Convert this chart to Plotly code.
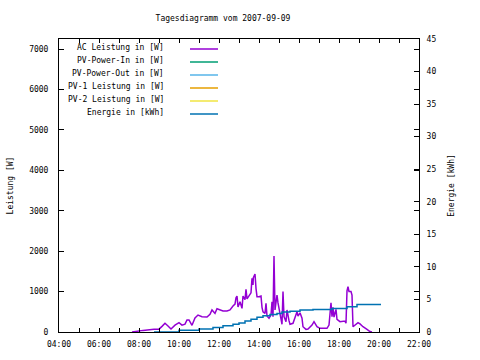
import plotly.graph_objects as go

DAY = "2007-09-09 "

ac_time = ["07:39","07:45","07:57","08:12","08:45","09:00","09:09","09:18","09:27","09:36",
           "09:48","10:00","10:09","10:18","10:24","10:30","10:39","10:48","10:57","11:09",
           "11:24","11:33","11:39","11:48","11:54","12:03","12:12","12:24","12:33","12:42",
           "12:48","12:51","12:54","12:57","13:03","13:09","13:12","13:18","13:21","13:24",
           "13:30","13:36","13:39","13:42","13:43","13:48","13:51","13:54","14:00","14:06",
           "14:09","14:12","14:18","14:21","14:24","14:30","14:36","14:39","14:42","14:45",
           "14:48","14:54","14:57","15:03","15:09","15:12","15:15","15:21","15:24","15:30",
           "15:33","15:42","15:48","15:54","15:57","16:03","16:09","16:12","16:21","16:27",
           "16:39","16:45","16:54","17:03","17:24","17:30","17:36","17:39","17:42","17:45",
           "17:51","17:54","18:03","18:18","18:21","18:24","18:27","18:30","18:36","18:39",
           "18:42","18:48","18:54","18:57","19:03","19:12","19:24","19:33","19:39"]
ac_watt = [0,10,20,40,65,70,140,215,150,75,
           170,230,170,195,300,300,165,350,420,380,
           370,440,545,460,575,545,520,520,545,645,
           690,850,890,620,750,585,890,800,1055,820,
           915,970,1330,1165,1345,1435,1080,875,875,890,
           610,500,460,710,395,340,420,750,380,1880,
           545,915,720,460,190,1000,380,255,545,280,
           190,215,340,500,395,475,340,130,65,75,
           170,255,130,90,90,170,725,380,610,370,
           560,310,255,270,215,1020,1120,1000,1000,915,
           130,170,230,230,200,130,65,10,0]

en_time = ["08:45","10:00","11:00","11:42","12:12","12:42","13:00","13:18","13:36","13:54",
           "14:12","14:33","14:54","15:09","15:33","16:03","16:42","17:39","18:24","18:54","20:06"]
en_kwh = [0.0,0.25,0.45,0.7,0.95,1.2,1.4,1.7,1.95,2.25,
          2.5,2.7,2.85,3.06,3.2,3.37,3.47,3.6,3.87,4.24,4.24]

legend_names = ["AC Leistung in [W]", "PV-Power-In in [W]", "PV-Power-Out in [W]",
                "PV-1 Leistung in [W]", "PV-2 Leistung in [W]", "Energie in [kWh]"]
colors = ["#9400d3", "#009e73", "#56b4e9", "#e69f00", "#f0e442", "#0072b2"]

FONT = "DejaVu Sans Mono"

fig = go.Figure()
fig.add_trace(go.Scatter(x=[DAY + t for t in ac_time], y=ac_watt, mode="lines",
                         name=legend_names[0], line=dict(color=colors[0], width=1.5),
                         showlegend=False))
for i in (1, 2, 3, 4):
    fig.add_trace(go.Scatter(x=[], y=[], mode="lines", name=legend_names[i],
                             line=dict(color=colors[i], width=1.5), showlegend=False))
fig.add_trace(go.Scatter(x=[DAY + t for t in en_time], y=en_kwh, mode="lines",
                         name=legend_names[5], line=dict(color=colors[5], width=1.5, shape="hv"),
                         yaxis="y2", showlegend=False))

# plot-area geometry in pixels
L, R, T, B = 59, 419, 39, 332
W, H = R - L, B - T

def px(x):
    return (x - L) / W

def py(y):
    return (B - y) / H

annotations = []
shapes = []
for i, name in enumerate(legend_names):
    yl = 49 + 13 * i
    annotations.append(dict(x=px(166), y=py(yl - 1.5), xref="paper", yref="paper",
                            text=name, showarrow=False, xanchor="right", yanchor="middle",
                            font=dict(family=FONT, size=8, color="black")))
    shapes.append(dict(type="line", xref="paper", yref="paper",
                       x0=px(190), x1=px(218), y0=py(yl), y1=py(yl),
                       line=dict(color=colors[i], width=1.5)))

axis_font = dict(family=FONT, size=8, color="black")

fig.update_layout(
    width=480, height=360,
    margin=dict(l=L, r=480 - R, t=T, b=360 - B, pad=0, autoexpand=False),
    paper_bgcolor="white", plot_bgcolor="white",
    title=dict(text="Tagesdiagramm vom 2007-09-09", x=(153 + 293) / 2 / 480, xanchor="center",
               y=1 - 18 / 360, yanchor="middle", automargin=False,
               font=dict(family=FONT, size=8, color="black")),
    xaxis=dict(type="date", range=[DAY + "04:00", DAY + "22:00"], dtick=7200000,
               tick0=DAY + "04:00", tickformat="%H:%M", ticks="inside", ticklen=4,
               tickcolor="black", showline=True, linecolor="black", linewidth=1,
               mirror="ticks", showgrid=False, zeroline=False, tickfont=axis_font,
               automargin=False, ticklabelstandoff=4,
               minor=dict(dtick=3600000, ticks="inside", ticklen=4, tickcolor="black",
                          showgrid=False)),
    yaxis=dict(range=[0, 7250], dtick=1000, tick0=0, ticks="inside", ticklen=5,
               tickcolor="black", showline=True, linecolor="black", linewidth=1,
               mirror="ticks", showgrid=False, zeroline=False, tickfont=axis_font,
               automargin=False, ticklabelstandoff=8,
               title=dict(text="Leistung [W]", font=axis_font, standoff=14)),
    yaxis2=dict(range=[0, 45], dtick=5, tick0=0, overlaying="y", side="right",
                ticks="inside", ticklen=5, tickcolor="black", showline=True,
                linecolor="black", linewidth=1, showgrid=False, zeroline=False,
                tickfont=axis_font, automargin=False, ticklabelstandoff=5,
                title=dict(text="Energie [kWh]", font=axis_font, standoff=12)),
    annotations=annotations, shapes=shapes,
    showlegend=False,
)

fig.write_html("out.html", config={"displayModeBar": False},
               post_script="document.body.style.margin='0';document.body.style.padding='0';")
